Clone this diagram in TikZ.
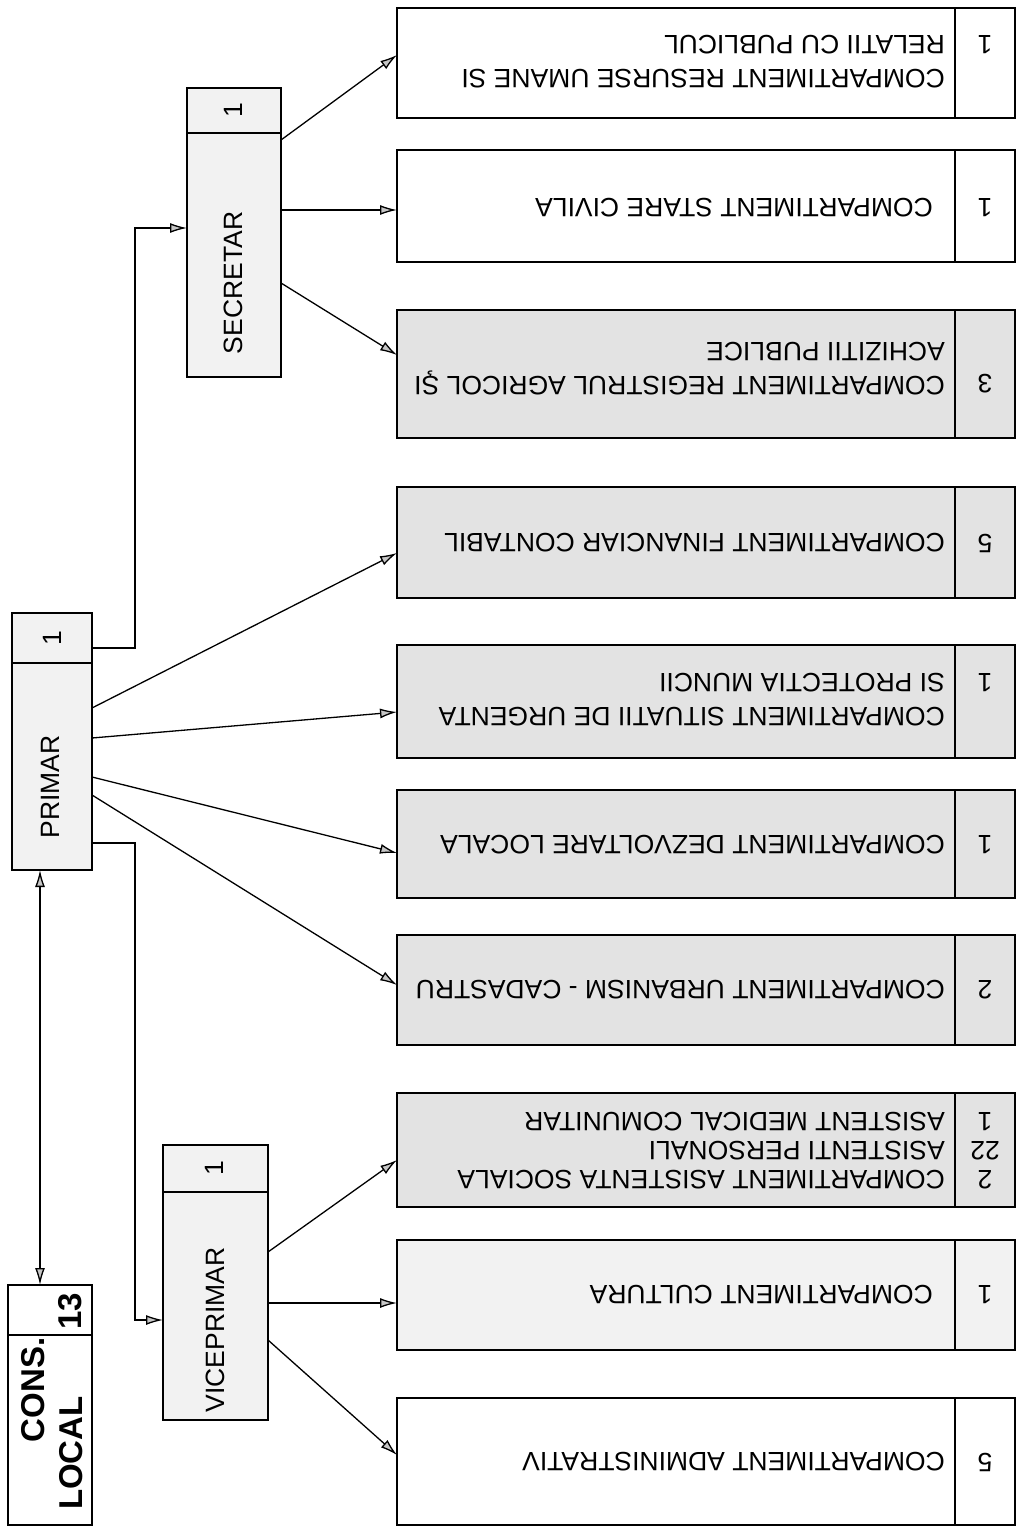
\documentclass[tikz,border=0pt]{standalone}
\usepackage{fontspec}
\setmainfont{Liberation Sans}
\usetikzlibrary{arrows.meta}
\begin{document}
\begin{tikzpicture}[x=1pt,y=-1pt,
  bx/.style={draw=black, line width=2pt, inner sep=0pt, outer sep=0pt, anchor=north west},
  ct/.style={rotate=180, font=\fontsize{26.5}{34}\selectfont, inner sep=0pt, align=left, anchor=west},
  nt/.style={rotate=180, font=\fontsize{26.5}{34}\selectfont, inner sep=0pt, align=center},
  vt/.style={rotate=90, font=\fontsize{26.5}{30}\selectfont, inner sep=0pt},
  bt/.style={rotate=90, font=\fontsize{33}{36}\selectfont\bfseries, inner sep=0pt},
  arr/.style={line width=1.3pt, -{Latex[length=17pt,width=10pt,fill=gray!45]}},
  darr/.style={line width=1.3pt, {Latex[length=17pt,width=10pt,fill=gray!45]}-{Latex[length=17pt,width=10pt,fill=gray!45]}},
  dv/.style={line width=1.6pt},
  gf/.style={fill=black!11},
  lf/.style={fill=black!5},
  wf/.style={fill=white}
]
\useasboundingbox[fill=white] (0,0) rectangle (1022,1530);

% ---------- left column ----------
\node[bx,wf,line width=2.6pt,minimum width=84,minimum height=240] (cons) at (8,1285) {};
\draw[dv,line width=2.2pt] (8,1335) -- (92,1335);
\node[bt] (consA) at (33,1390) {CONS.};
\node[bt] (consB) at (71,1453) {LOCAL};
\node[bt] (consN) at (70,1311) {13};

\node[bx,lf,minimum width=80,minimum height=257] (primar) at (12,613) {};
\draw[dv] (12,663) -- (92,663);
\node[vt] (primarT) at (50,787) {PRIMAR};
\node[vt] (primarN) at (52,638) {1};

\node[bx,lf,minimum width=94,minimum height=289] (secr) at (187,88) {};
\draw[dv] (187,133) -- (281,133);
\node[vt] (secrT) at (233,283) {SECRETAR};
\node[vt] (secrN) at (233,110) {1};

\node[bx,lf,minimum width=105,minimum height=275] (vice) at (163,1145) {};
\draw[dv] (163,1192) -- (268,1192);
\node[vt] (viceT) at (215,1330) {VICEPRIMAR};
\node[vt] (viceN) at (214,1168) {1};

% ---------- compartments ----------
\node[bx,wf,minimum width=618,minimum height=110] (res) at (397,8) {};
\draw[dv] (955,8) -- (955,118);
\node[ct] (resT) at (945,62) {COMPARTIMENT RESURSE UMANE SI\\RELATII CU PUBLICUL};
\node[nt] (resN) at (985,45) {1};

\node[bx,wf,minimum width=618,minimum height=112] (stare) at (397,150) {};
\draw[dv] (955,150) -- (955,262);
\node[ct] (stareT) at (933,208) {COMPARTIMENT STARE CIVILA};
\node[nt] (stareN) at (985,208) {1};

\node[bx,gf,minimum width=618,minimum height=128] (reg) at (397,310) {};
\draw[dv] (955,310) -- (955,438);
\node[ct] (regT) at (945,369) {COMPARTIMENT REGISTRUL AGRICOL ŞI\\ACHIZITII PUBLICE};
\node[nt] (regN) at (985,384) {3};

\node[bx,gf,minimum width=618,minimum height=111] (fin) at (397,487) {};
\draw[dv] (955,487) -- (955,598);
\node[ct] (finT) at (945,543) {COMPARTIMENT FINANCIAR CONTABIL};
\node[nt] (finN) at (985,543) {5};

\node[bx,gf,minimum width=618,minimum height=113] (sit) at (397,645) {};
\draw[dv] (955,645) -- (955,758);
\node[ct] (sitT) at (945,700) {COMPARTIMENT SITUATII DE URGENTA\\SI PROTECTIA MUNCII};
\node[nt] (sitN) at (985,683) {1};

\node[bx,gf,minimum width=618,minimum height=108] (dez) at (397,790) {};
\draw[dv] (955,790) -- (955,898);
\node[ct] (dezT) at (945,845) {COMPARTIMENT DEZVOLTARE LOCALA};
\node[nt] (dezN) at (985,845) {1};

\node[bx,gf,minimum width=618,minimum height=110] (urb) at (397,935) {};
\draw[dv] (955,935) -- (955,1045);
\node[ct] (urbT) at (945,990) {COMPARTIMENT URBANISM - CADASTRU};
\node[nt] (urbN) at (985,990) {2};

\node[bx,gf,minimum width=618,minimum height=114] (asis) at (397,1093) {};
\draw[dv] (955,1093) -- (955,1207);
\node[ct,font=\fontsize{26.5}{29}\selectfont] (asisT) at (945,1151) {COMPARTIMENT ASISTENTA SOCIALA\\ASISTENTI PERSONALI\\ASISTENT MEDICAL COMUNITAR};
\node[nt,font=\fontsize{26.5}{29}\selectfont] (asisN) at (985,1151) {2\\22\\1};

\node[bx,lf,minimum width=618,minimum height=110] (cult) at (397,1240) {};
\draw[dv] (955,1240) -- (955,1350);
\node[ct] (cultT) at (933,1295) {COMPARTIMENT CULTURA};
\node[nt] (cultN) at (985,1295) {1};

\node[bx,wf,minimum width=618,minimum height=127] (adm) at (397,1398) {};
\draw[dv] (955,1398) -- (955,1525);
\node[ct] (admT) at (945,1462) {COMPARTIMENT ADMINISTRATIV};
\node[nt] (admN) at (985,1462) {5};

% ---------- connectors ----------
\draw[darr] ([xshift=28pt]primar.south west) -- ([xshift=32pt]cons.north west);

\draw[arr] ([yshift=-35pt]primar.north east) -- ++(43,0) |- ([yshift=-140pt]secr.north west);
\draw[arr] ([yshift=-230pt]primar.north east) -- ++(43,0) |- ([yshift=-175pt]vice.north west);

\draw[arr] ([yshift=-95pt]primar.north east) -- ([yshift=-66pt]fin.north west);
\draw[arr] ([yshift=-125pt]primar.north east) -- ([yshift=-67pt]sit.north west);
\draw[arr] ([yshift=-164pt]primar.north east) -- ([yshift=-63pt]dez.north west);
\draw[arr] ([yshift=-182pt]primar.north east) -- ([yshift=-50pt]urb.north west);

\draw[arr] ([yshift=-52pt]secr.north east) -- ([yshift=-47pt]res.north west);
\draw[arr] ([yshift=-122pt]secr.north east) -- ([yshift=-60pt]stare.north west);
\draw[arr] ([yshift=-195pt]secr.north east) -- ([yshift=-45pt]reg.north west);

\draw[arr] ([yshift=-107pt]vice.north east) -- ([yshift=-67pt]asis.north west);
\draw[arr] ([yshift=-158pt]vice.north east) -- ([yshift=-63pt]cult.north west);
\draw[arr] ([yshift=-195pt]vice.north east) -- ([yshift=-57pt]adm.north west);
\end{tikzpicture}
\end{document}
